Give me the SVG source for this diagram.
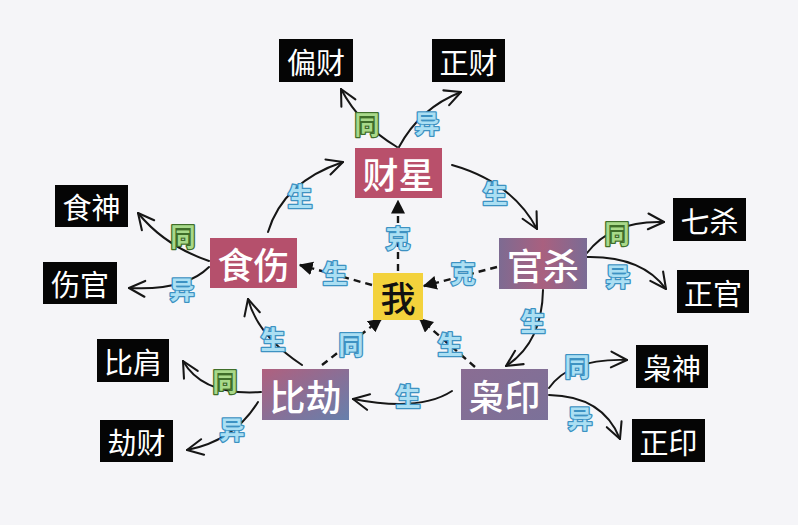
<svg xmlns="http://www.w3.org/2000/svg" width="798" height="525" viewBox="0 0 798 525">
<style>
.main text{font-family:"Noto Sans CJK SC","Noto Sans",sans-serif;font-size:36px;fill:#fff;text-anchor:middle;dominant-baseline:central;font-weight:500}
.leaf rect{fill:#050505}
.leaf text{font-family:"Noto Sans CJK SC","Noto Sans",sans-serif;font-size:29px;fill:#fff;text-anchor:middle;dominant-baseline:central}
.lb{font-family:"Noto Sans CJK SC",sans-serif;font-size:25px;font-weight:bold;text-anchor:middle;dominant-baseline:central;paint-order:stroke;stroke-width:2.6px;stroke-linejoin:round}
.blue{fill:#abdff3;stroke:#3d92c2}
.green{fill:#a8d98a;stroke:#3f6e2a}
.sol{fill:none;stroke:#161616;stroke-width:2;stroke-linecap:round;marker-end:url(#open)}
.dash{fill:none;stroke:#161616;stroke-width:2.4;stroke-dasharray:7 5;marker-end:url(#tri)}
</style>
<defs>
<marker id="open" viewBox="0 0 12 12" refX="11" refY="6" markerWidth="19" markerHeight="19" markerUnits="userSpaceOnUse" orient="auto">
<path d="M1,1 L11,6 L1,11" fill="none" stroke="#161616" stroke-width="1.3" stroke-linecap="round" stroke-linejoin="round"/>
</marker>
<marker id="tri" viewBox="0 0 10 10" refX="9" refY="5" markerWidth="14" markerHeight="14" markerUnits="userSpaceOnUse" orient="auto">
<path d="M0,0 L10,5 L0,10 Z" fill="#111"/>
</marker>
<linearGradient id="gGuan" x1="0" y1="0" x2="1" y2="0">
<stop offset="0" stop-color="#7d6b92"/><stop offset="0.5" stop-color="#a9607f"/><stop offset="1" stop-color="#7a6c95"/>
</linearGradient>
<linearGradient id="gBi" x1="0" y1="0" x2="1" y2="1">
<stop offset="0" stop-color="#b0607e"/><stop offset="0.5" stop-color="#8a6f96"/><stop offset="1" stop-color="#6680ac"/>
</linearGradient>
<linearGradient id="gXiao" x1="0" y1="0" x2="1" y2="1">
<stop offset="0" stop-color="#8a6d93"/><stop offset="1" stop-color="#7b7199"/>
</linearGradient>
</defs>
<rect width="798" height="525" fill="#f5f5f8"/>

<g id="connectors">
<path class="sol" d="M397,147 Q360,125 341,89"/>
<path class="sol" d="M399,147 Q420,108 461,92"/>
<path class="sol" d="M268,232 Q283,182 343,162"/>
<path class="sol" d="M452,165 Q512,182 537,229"/>
<path class="sol" d="M543,290 Q542,343 506,366"/>
<path class="sol" d="M452,391 Q420,412 353,399"/>
<path class="sol" d="M302,365 Q258,336 248,299"/>
<path class="sol" d="M209,261 Q165,246 138,213"/>
<path class="sol" d="M209,267 Q185,291 129,288"/>
<path class="sol" d="M587,253 Q612,220 664,222"/>
<path class="sol" d="M587,257 Q642,256 666,289"/>
<path class="sol" d="M261,392 Q203,396 183,361"/>
<path class="sol" d="M258,402 Q234,441 187,450"/>
<path class="sol" d="M549,388 Q570,358 627,360"/>
<path class="sol" d="M549,395 Q603,396 620,439"/>
<path class="dash" d="M398,271 L398,201"/>
<path class="dash" d="M497,267 L424,286"/>
<path class="dash" d="M372,285 L300,265"/>
<path class="dash" d="M322,365 L381,319"/>
<path class="dash" d="M475,367 L420,319"/>
</g>

<g id="labels">
<text class="lb green" x="367" y="123">同</text>
<text class="lb blue" x="427" y="122">异</text>
<text class="lb blue" x="300" y="195">生</text>
<text class="lb blue" x="495" y="192">生</text>
<text class="lb blue" x="398" y="237">克</text>
<text class="lb blue" x="463" y="272">克</text>
<text class="lb blue" x="335" y="272">生</text>
<text class="lb green" x="183" y="235">同</text>
<text class="lb blue" x="182" y="288">异</text>
<text class="lb green" x="617" y="232">同</text>
<text class="lb blue" x="618" y="275">异</text>
<text class="lb blue" x="533" y="320">生</text>
<text class="lb blue" x="273" y="338">生</text>
<text class="lb blue" x="351" y="343">同</text>
<text class="lb blue" x="450" y="343">生</text>
<text class="lb blue" x="408" y="395">生</text>
<text class="lb green" x="225" y="380">同</text>
<text class="lb blue" x="232" y="428">异</text>
<text class="lb blue" x="577" y="365">同</text>
<text class="lb blue" x="580" y="417">异</text>
</g>

<g id="caixing" class="main"><rect x="355" y="148" width="87" height="50" fill="#b9506b"/><text x="398.5" y="173">财星</text></g>
<g id="shishang" class="main"><rect x="210" y="238" width="87" height="50" fill="#b5506c"/><text x="253.5" y="263">食伤</text></g>
<g id="guansha" class="main"><rect x="499" y="238" width="88" height="51" fill="url(#gGuan)"/><text x="543" y="263.5">官杀</text></g>
<g id="bijie" class="main"><rect x="262" y="369" width="87" height="51" fill="url(#gBi)"/><text x="305.5" y="394.5">比劫</text></g>
<g id="xiaoyin" class="main"><rect x="461" y="369" width="87" height="51" fill="url(#gXiao)"/><text x="504.5" y="394.5">枭印</text></g>
<g id="wo"><rect x="373" y="273" width="50" height="47" fill="#f3d23c"/><text x="398" y="296.5" font-family="Noto Sans CJK SC, sans-serif" font-size="35" font-weight="500" fill="#111" text-anchor="middle" dominant-baseline="central">我</text></g>

<g id="piancai" class="leaf"><rect x="279" y="39" width="74" height="43"/><text x="316" y="60.5">偏财</text></g>
<g id="zhengcai" class="leaf"><rect x="432" y="39" width="73" height="43"/><text x="468.5" y="60.5">正财</text></g>
<g id="shishen" class="leaf"><rect x="55" y="185" width="73" height="42"/><text x="91.5" y="206">食神</text></g>
<g id="shangguan" class="leaf"><rect x="43" y="262" width="74" height="42"/><text x="80" y="283">伤官</text></g>
<g id="qisha" class="leaf"><rect x="673" y="198" width="73" height="43"/><text x="709.5" y="219.5">七杀</text></g>
<g id="zhengguan" class="leaf"><rect x="677" y="270" width="72" height="43"/><text x="713" y="291.5">正官</text></g>
<g id="bijian" class="leaf"><rect x="97" y="339" width="72" height="43"/><text x="133" y="360.5">比肩</text></g>
<g id="jiecai" class="leaf"><rect x="100" y="420" width="73" height="42"/><text x="136.5" y="441">劫财</text></g>
<g id="xiaoshen" class="leaf"><rect x="636" y="345" width="72" height="43"/><text x="672" y="366.5">枭神</text></g>
<g id="zhengyin" class="leaf"><rect x="632" y="419" width="73" height="43"/><text x="668.5" y="440.5">正印</text></g>
</svg>
